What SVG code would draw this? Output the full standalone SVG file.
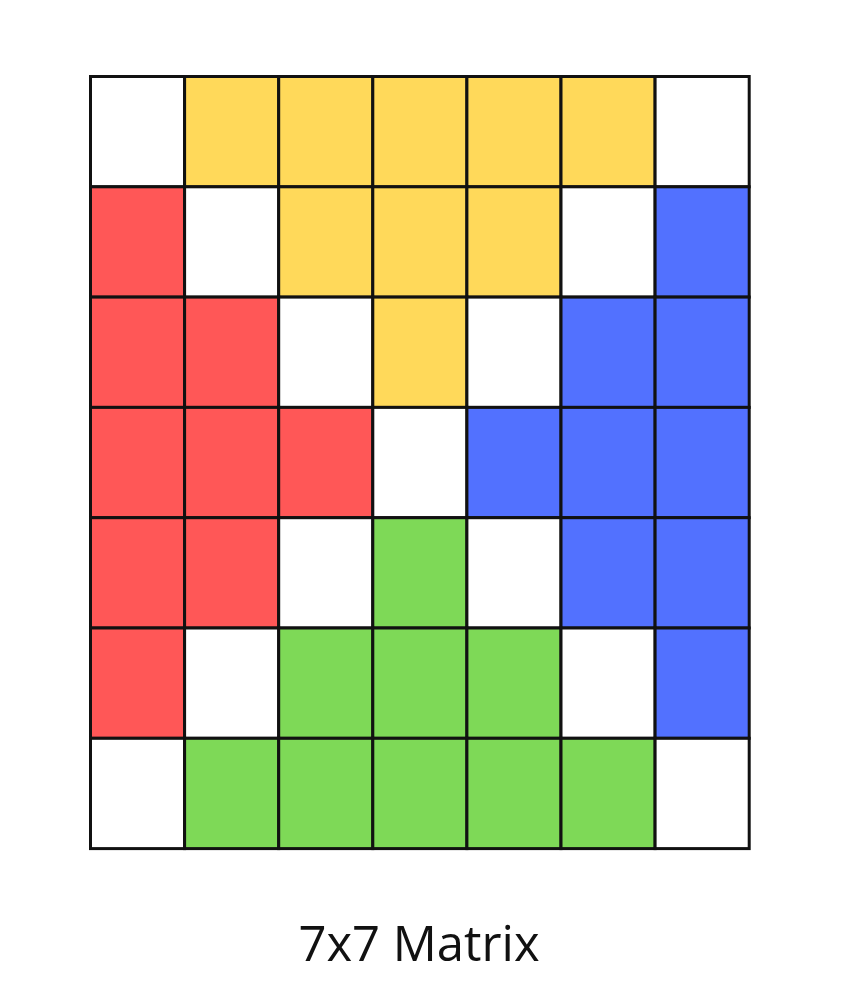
<svg xmlns="http://www.w3.org/2000/svg" width="853" height="1000" viewBox="0 0 853 1000">
<style>
rect{stroke:#111;stroke-width:3}
.W{fill:#ffffff}.Y{fill:#FFD95A}.R{fill:#FF5757}.B{fill:#5271FF}.G{fill:#7ED957}
text{font-family:"Open Sans","Noto Sans",sans-serif;font-size:49px;fill:#111}
</style>
<rect width="853" height="1000" fill="#fff" style="stroke:none"/>
<g id="grid">
<g id="row0">
<rect class="W" x="90.5" y="76.5" width="94.1" height="110.3"/>
<rect class="Y" x="184.6" y="76.5" width="94.1" height="110.3"/>
<rect class="Y" x="278.7" y="76.5" width="94.1" height="110.3"/>
<rect class="Y" x="372.8" y="76.5" width="94.1" height="110.3"/>
<rect class="Y" x="466.9" y="76.5" width="94.1" height="110.3"/>
<rect class="Y" x="561" y="76.5" width="94.1" height="110.3"/>
<rect class="W" x="655.1" y="76.5" width="94.1" height="110.3"/>
</g>
<g id="row1">
<rect class="R" x="90.5" y="186.8" width="94.1" height="110.3"/>
<rect class="W" x="184.6" y="186.8" width="94.1" height="110.3"/>
<rect class="Y" x="278.7" y="186.8" width="94.1" height="110.3"/>
<rect class="Y" x="372.8" y="186.8" width="94.1" height="110.3"/>
<rect class="Y" x="466.9" y="186.8" width="94.1" height="110.3"/>
<rect class="W" x="561" y="186.8" width="94.1" height="110.3"/>
<rect class="B" x="655.1" y="186.8" width="94.1" height="110.3"/>
</g>
<g id="row2">
<rect class="R" x="90.5" y="297.1" width="94.1" height="110.3"/>
<rect class="R" x="184.6" y="297.1" width="94.1" height="110.3"/>
<rect class="W" x="278.7" y="297.1" width="94.1" height="110.3"/>
<rect class="Y" x="372.8" y="297.1" width="94.1" height="110.3"/>
<rect class="W" x="466.9" y="297.1" width="94.1" height="110.3"/>
<rect class="B" x="561" y="297.1" width="94.1" height="110.3"/>
<rect class="B" x="655.1" y="297.1" width="94.1" height="110.3"/>
</g>
<g id="row3">
<rect class="R" x="90.5" y="407.4" width="94.1" height="110.3"/>
<rect class="R" x="184.6" y="407.4" width="94.1" height="110.3"/>
<rect class="R" x="278.7" y="407.4" width="94.1" height="110.3"/>
<rect class="W" x="372.8" y="407.4" width="94.1" height="110.3"/>
<rect class="B" x="466.9" y="407.4" width="94.1" height="110.3"/>
<rect class="B" x="561" y="407.4" width="94.1" height="110.3"/>
<rect class="B" x="655.1" y="407.4" width="94.1" height="110.3"/>
</g>
<g id="row4">
<rect class="R" x="90.5" y="517.7" width="94.1" height="110.3"/>
<rect class="R" x="184.6" y="517.7" width="94.1" height="110.3"/>
<rect class="W" x="278.7" y="517.7" width="94.1" height="110.3"/>
<rect class="G" x="372.8" y="517.7" width="94.1" height="110.3"/>
<rect class="W" x="466.9" y="517.7" width="94.1" height="110.3"/>
<rect class="B" x="561" y="517.7" width="94.1" height="110.3"/>
<rect class="B" x="655.1" y="517.7" width="94.1" height="110.3"/>
</g>
<g id="row5">
<rect class="R" x="90.5" y="628" width="94.1" height="110.3"/>
<rect class="W" x="184.6" y="628" width="94.1" height="110.3"/>
<rect class="G" x="278.7" y="628" width="94.1" height="110.3"/>
<rect class="G" x="372.8" y="628" width="94.1" height="110.3"/>
<rect class="G" x="466.9" y="628" width="94.1" height="110.3"/>
<rect class="W" x="561" y="628" width="94.1" height="110.3"/>
<rect class="B" x="655.1" y="628" width="94.1" height="110.3"/>
</g>
<g id="row6">
<rect class="W" x="90.5" y="738.3" width="94.1" height="110.3"/>
<rect class="G" x="184.6" y="738.3" width="94.1" height="110.3"/>
<rect class="G" x="278.7" y="738.3" width="94.1" height="110.3"/>
<rect class="G" x="372.8" y="738.3" width="94.1" height="110.3"/>
<rect class="G" x="466.9" y="738.3" width="94.1" height="110.3"/>
<rect class="G" x="561" y="738.3" width="94.1" height="110.3"/>
<rect class="W" x="655.1" y="738.3" width="94.1" height="110.3"/>
</g>
</g>
<g id="caption">
<text x="419" y="961" text-anchor="middle">7x7 Matrix</text>
</g>
</svg>
